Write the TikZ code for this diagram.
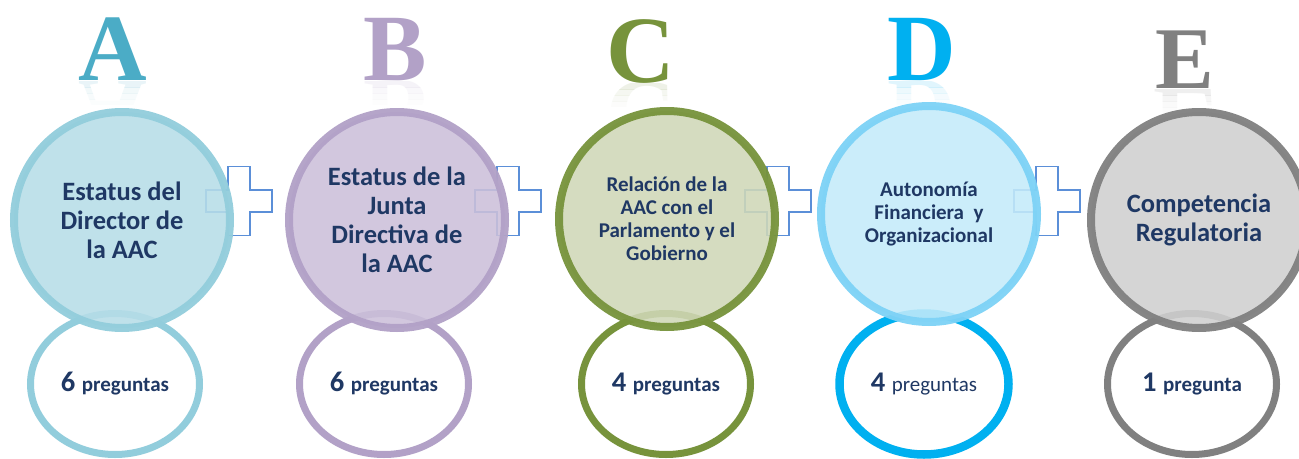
\documentclass[tikz,border=0pt]{standalone}
\usepackage{fontspec}
\setmainfont{Carlito}
\newfontfamily\letterfont{Liberation Serif}
\usetikzlibrary{shapes.geometric}
\definecolor{txt}{HTML}{1F3864}
\definecolor{aS}{HTML}{92CDDC}\definecolor{aF}{HTML}{B7DDE8}\definecolor{aL}{HTML}{4BACC6}
\definecolor{bS}{HTML}{B2A1C7}\definecolor{bF}{HTML}{CCC0DA}\definecolor{bL}{HTML}{B2A1C7}
\definecolor{cS}{HTML}{77933C}\definecolor{cF}{HTML}{D0D8B8}\definecolor{cL}{HTML}{77933C}
\definecolor{dS}{HTML}{7DD2F6}\definecolor{dF}{HTML}{C4EBFA}\definecolor{dL}{HTML}{00B0F0}\definecolor{dE}{HTML}{00B0F0}
\definecolor{eS}{HTML}{808080}\definecolor{eF}{HTML}{D0D0D0}\definecolor{eL}{HTML}{808080}
\definecolor{plusc}{HTML}{5B8FD8}
\tikzset{
  bigc/.style={circle, inner sep=0pt, minimum size=216pt, line width=8pt, fill opacity=0.88, draw opacity=0.95, text opacity=1, align=center, text=txt, font=\bfseries\fontsize{26.5}{29}\selectfont},
  smalle/.style={ellipse, inner sep=0pt, minimum width=169pt, minimum height=141pt, line width=7pt, fill=white, text=txt, font=\bfseries},
  letter/.style={inner sep=0pt, anchor=base, font=\letterfont\bfseries\fontsize{95}{95}\selectfont},
  plusbox/.style={draw=plusc, line width=1.4pt, fill=white},
}
\newcommand{\plusat}[2]{%
  \draw[plusbox] (#1-11,#2-34.5) -- (#1+11,#2-34.5) -- (#1+11,#2-11) -- (#1+33,#2-11) -- (#1+33,#2+11) -- (#1+11,#2+11) -- (#1+11,#2+34.5) -- (#1-11,#2+34.5) -- (#1-11,#2+11) -- (#1-33,#2+11) -- (#1-33,#2-11) -- (#1-11,#2-11) -- cycle;}
\newcommand{\refstrip}[7]{% x, baseline, color, letter, y0, y1, opacity, size
  \begin{scope}
    \clip (#1-60,#2+#5) rectangle (#1+60,#2+#6);
    \node[letter, text=#3, opacity=#7, yscale=-1, anchor=base] at (#1,#2) {#4};
  \end{scope}}
\newcommand{\reflet}[4]{%
  \refstrip{#1}{#2}{#3}{#4}{1}{7}{0.12}%
  \refstrip{#1}{#2}{#3}{#4}{7}{13}{0.07}%
  \refstrip{#1}{#2}{#3}{#4}{13}{19}{0.04}%
  \refstrip{#1}{#2}{#3}{#4}{19}{24}{0.02}}
\begin{document}
\begin{tikzpicture}[x=1pt,y=-1pt]
\useasboundingbox[fill=white] (0,0) rectangle (1299,458);

% letters
\node[letter, text=aL] (LA) at (113,80) {A};
\node[letter, text=bL] (LB) at (395,80) {B};
\node[letter, text=cL] (LC) at (641,82) {C};
\node[letter, text=dL] (LD) at (922,80) {D};
\node[letter, text=eL, font=\letterfont\bfseries\fontsize{88}{88}\selectfont] (LE) at (1185,88) {E};
\reflet{113}{80}{aL}{A}
\reflet{395}{80}{bL}{B}
\reflet{641}{82}{cL}{C}
\reflet{922}{80}{dL}{D}
\reflet{1185}{88}{eL}{E}

% small ellipses
\node[smalle, draw=aS] (sA) at (115,384) {\fontsize{28.5}{30}\selectfont 6 \fontsize{21}{24}\selectfont preguntas};
\node[smalle, draw=bS] (sB) at (384,384) {\fontsize{28.5}{30}\selectfont 6 \fontsize{21}{24}\selectfont preguntas};
\node[smalle, draw=cS] (sC) at (666,384) {\fontsize{28.5}{30}\selectfont 4 \fontsize{21}{24}\selectfont preguntas};
\node[smalle, draw=dE, line width=8.5pt] (sD) at (924,384) {\fontsize{28.5}{30}\selectfont 4 \fontsize{21}{24}\selectfont\mdseries preguntas};
\node[smalle, draw=eS] (sE) at (1192,384) {\fontsize{28.5}{30}\selectfont 1 \fontsize{21}{24}\selectfont pregunta};

% plus signs
\plusat{239}{201}
\plusat{508}{201}
\plusat{778}{201}
\plusat{1047}{201}

% big circles
\node[bigc, draw=aS, fill=aF] (cA) at (122,220) {Estatus del\\Director de\\la AAC};
\node[bigc, draw=bS, fill=bF] (cB) at (397,220) {Estatus de la\\Junta\\Directiva de\\la AAC};
\node[bigc, draw=cS, fill=cF, font=\bfseries\fontsize{21}{23}\selectfont] (cC) at (667,219) {Relación de la\\AAC con el\\Parlamento y el\\Gobierno};
\node[bigc, draw=dS, fill=dF, font=\bfseries\fontsize{21}{23}\selectfont] (cD) at (929,214) {Autonomía\\Financiera\ \ y\\Organizacional};
\node[bigc, draw=eS, fill=eF] (cE) at (1199,220) {Competencia\\Regulatoria};
\end{tikzpicture}
\end{document}
